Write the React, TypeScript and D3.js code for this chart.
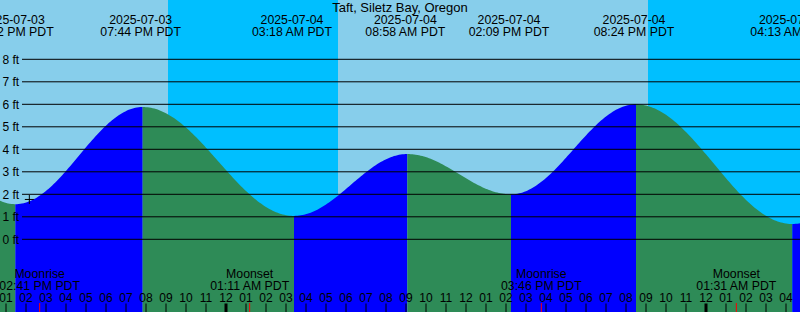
import React from 'react';
import * as d3 from 'd3';

// tide extremes (PDT)
const tideTimes = ['2025-07-03 13:22', '2025-07-03 19:44', '2025-07-04 03:18', '2025-07-04 08:58', '2025-07-04 14:09', '2025-07-04 20:24', '2025-07-05 04:13'];
const tideHeights = [1.56, 5.88, 1.04, 3.79, 2.0, 6.0, 0.68];
const tideDates = ['2025-07-03', '2025-07-03', '2025-07-04', '2025-07-04', '2025-07-04', '2025-07-04', '2025-07-05'];
const tideClock = ['01:22 PM PDT', '07:44 PM PDT', '03:18 AM PDT', '08:58 AM PDT', '02:09 PM PDT', '08:24 PM PDT', '04:13 AM PDT'];

// sun: night bands
const nightStarts = ['2025-07-03 21:06', '2025-07-04 21:06'];
const nightEnds = ['2025-07-04 05:36', '2025-07-05 05:36'];

// moon events
const moonTimes = ['2025-07-03 14:41', '2025-07-04 01:11', '2025-07-04 15:46', '2025-07-05 01:31'];
const moonKinds = ['Moonrise', 'Moonset', 'Moonrise', 'Moonset'];
const moonClock = ['02:41 PM PDT', '01:11 AM PDT', '03:46 PM PDT', '01:31 AM PDT'];

const feet = [0, 1, 2, 3, 4, 5, 6, 7, 8];
const nowTime = '2025-07-03 14:10';
const title = 'Taft, Siletz Bay, Oregon';

const W = 800;
const H = 312;
const parse = d3.utcParse('%Y-%m-%d %H:%M');
const FONT = '"Liberation Sans", Arial, sans-serif';

const App = () => {
  const x = d3.scaleUtc()
    .domain([parse('2025-07-03 12:42'), parse('2025-07-05 04:42')])
    .range([0, W]);
  const y = d3.scaleLinear().domain([0, 8]).range([239.3, 59.3]);
  // the tide fill sits a couple of pixels right of the tick marks in the original
  const fillShift = 2;

  // extremes, mirrored once at both ends so the curve reaches the edges
  let ext = tideTimes.map((t, i) => ({ t: +parse(t), h: tideHeights[i] }));
  const n = ext.length;
  ext = [
    { t: 2 * ext[0].t - ext[1].t, h: ext[1].h },
    ...ext,
    { t: 2 * ext[n - 1].t - ext[n - 2].t, h: ext[n - 2].h },
  ];

  const heightAt = (t: number) => {
    for (let i = 0; i < ext.length - 1; i++) {
      const a = ext[i], b = ext[i + 1];
      if (t >= a.t && t <= b.t) {
        const f = (t - a.t) / (b.t - a.t);
        return a.h + (b.h - a.h) * (1 - Math.cos(Math.PI * f)) / 2;
      }
    }
    return ext[0].h;
  };

  const area = d3.area<number>()
    .x(t => x(t) + fillShift)
    .y0(H)
    .y1(t => y(heightAt(t)));

  const segs = [];
  for (let i = 0; i < ext.length - 1; i++) {
    const a = ext[i], b = ext[i + 1];
    const pts: number[] = [];
    const step = 5 * 60 * 1000;
    for (let t = a.t; t < b.t; t += step) pts.push(t);
    pts.push(b.t);
    segs.push({ d: area(pts), rising: b.h > a.h });
  }

  const hours = d3.utcHour.range(x.domain()[0], x.domain()[1]);
  const fmtHour = d3.utcFormat('%I');
  const nt = +parse(nowTime);
  const cx = x(nt), cy = y(heightAt(nt)) - 1;

  return (
    <svg width={W} height={H} style={{ position: 'absolute', left: 0, top: 0 }} fontFamily={FONT} fontSize={12}>
      <rect x={0} y={0} width={W} height={H} fill="#87CEEB" />
      {nightStarts.map((s, i) => (
        <rect key={i} x={x(parse(s))} y={0} width={x(parse(nightEnds[i])) - x(parse(s))} height={H} fill="#00BFFF" />
      ))}
      {segs.map((s, i) => (
        <path key={i} d={s.d} fill={s.rising ? '#0000FF' : '#2E8B57'} />
      ))}
      {feet.map(f => (
        <g key={f}>
          <line x1={22} x2={W} y1={y(f)} y2={y(f)} stroke="#000" strokeWidth={1} />
          <text x={2.5} y={y(f) + 4.3} fill="#000">{`${f} ft`}</text>
        </g>
      ))}
      <line x1={cx - 4.5} x2={cx + 4.5} y1={cy} y2={cy} stroke="#000" />
      <line x1={cx} x2={cx} y1={cy - 4.5} y2={cy + 4.5} stroke="#000" />
      <text x={400} y={12} textAnchor="middle" fill="#000" fontSize={13}>{title}</text>
      {tideTimes.map((t, i) => (
        <g key={i} textAnchor="middle" fill="#000" fontSize={12.3}>
          <text x={x(parse(t))} y={24}>{tideDates[i]}</text>
          <text x={x(parse(t))} y={36}>{tideClock[i]}</text>
        </g>
      ))}
      {moonTimes.map((t, i) => (
        <g key={i} textAnchor="middle" fill="#000" fontSize={12.3}>
          <text x={x(parse(t))} y={278}>{moonKinds[i]}</text>
          <text x={x(parse(t))} y={290}>{moonClock[i]}</text>
        </g>
      ))}
      {hours.map((h, i) => {
        const mid = h.getUTCHours() === 0;
        return (
          <g key={i}>
            <line x1={x(h)} x2={x(h)} y1={303.5} y2={H} stroke="#000" strokeWidth={mid ? 3 : 1} />
            <text x={x(h)} y={302} textAnchor="middle" fill="#000">{fmtHour(h)}</text>
          </g>
        );
      })}
      {moonTimes.map((t, i) => (
        <line key={i} x1={x(parse(t))} x2={x(parse(t))} y1={303} y2={H} stroke="#FF0000" strokeWidth={1} />
      ))}
    </svg>
  );
};

export default App;
